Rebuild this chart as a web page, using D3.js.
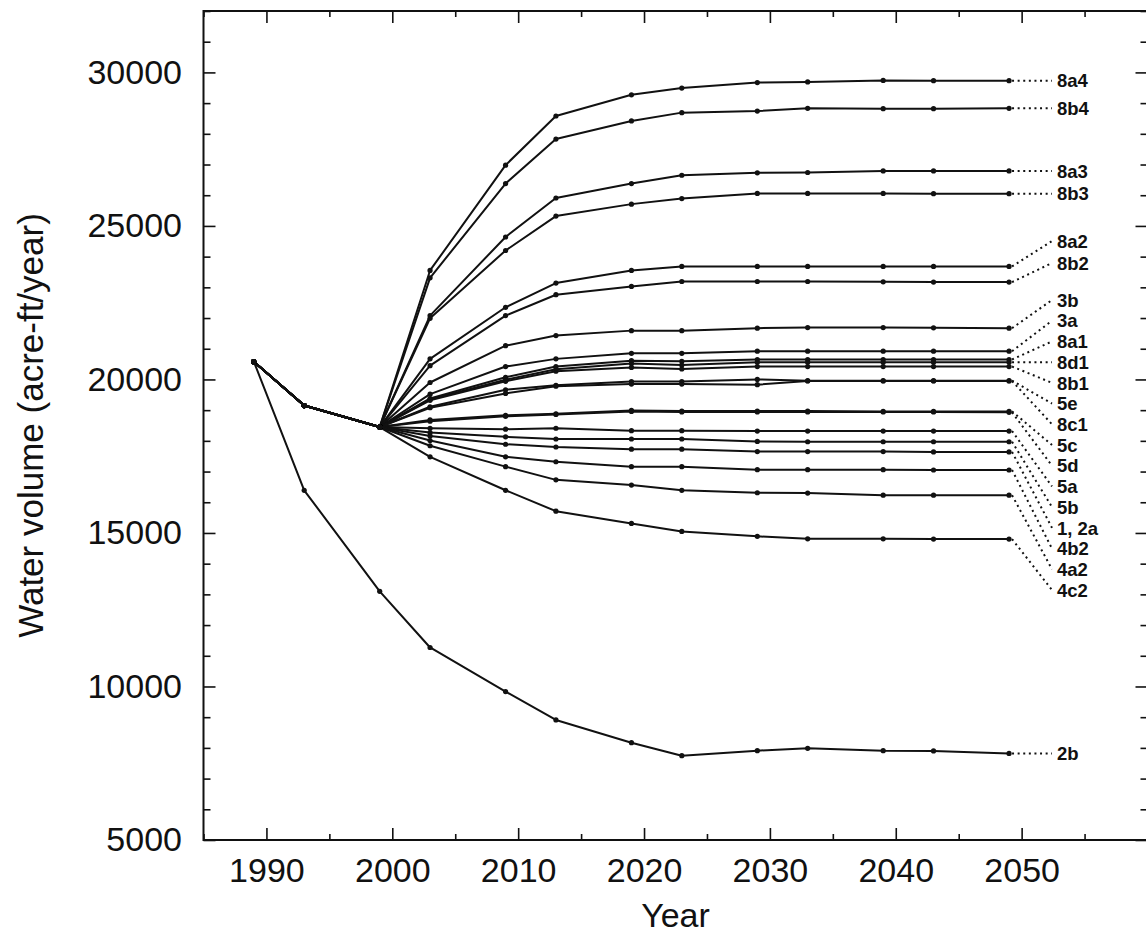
<!DOCTYPE html>
<html><head><meta charset="utf-8">
<script src="https://cdn.jsdelivr.net/npm/d3@7"></script>
<style>body{margin:0;background:#fff}</style>
</head><body>
<svg id="c" width="1146" height="936"></svg>
<script>
// ---- data ----
const years = [1989, 1993, 1999, 2003, 2009, 2013, 2019, 2023, 2029, 2033, 2039, 2043, 2049];
const yearTicks = [1990, 2000, 2010, 2020, 2030, 2040, 2050];
const valueTicks = [5000, 10000, 15000, 20000, 25000, 30000];

const s8a4 = [20580, 19150, 18450, 23550, 26980, 28580, 29270, 29490, 29670, 29690, 29740, 29730, 29730];
const s8b4 = [20580, 19150, 18450, 23310, 26380, 27830, 28420, 28690, 28740, 28830, 28820, 28820, 28830];
const s8a3 = [20580, 19150, 18450, 22080, 24640, 25910, 26380, 26650, 26730, 26740, 26790, 26790, 26790];
const s8b3 = [20580, 19150, 18450, 21990, 24200, 25320, 25710, 25890, 26060, 26060, 26060, 26050, 26050];
const s8a2 = [20580, 19150, 18450, 20670, 22350, 23140, 23550, 23680, 23680, 23680, 23680, 23680, 23680];
const s8b2 = [20580, 19150, 18450, 20450, 22080, 22760, 23030, 23190, 23190, 23190, 23180, 23170, 23170];
const s3b  = [20580, 19150, 18450, 19900, 21100, 21430, 21590, 21590, 21670, 21690, 21690, 21680, 21670];
const s3a  = [20580, 19150, 18450, 19520, 20420, 20670, 20850, 20850, 20920, 20920, 20920, 20920, 20920];
const s8a1 = [20580, 19150, 18450, 19380, 20070, 20420, 20610, 20590, 20650, 20650, 20650, 20650, 20650];
const s8d1 = [20580, 19150, 18450, 19350, 19990, 20330, 20520, 20470, 20560, 20560, 20560, 20560, 20560];
const s8b1 = [20580, 19150, 18450, 19320, 19940, 20270, 20390, 20340, 20420, 20420, 20420, 20420, 20420];
const s5e  = [20580, 19150, 18450, 19110, 19665, 19810, 19930, 19930, 20000, 19960, 19960, 19960, 19960];
const s8c1 = [20580, 19150, 18450, 19080, 19545, 19780, 19850, 19850, 19830, 19950, 19950, 19950, 19950];
const s5c  = [20580, 19150, 18450, 18680, 18830, 18880, 18990, 18970, 18970, 18970, 18960, 18960, 18960];
const s5d  = [20580, 19150, 18450, 18640, 18800, 18860, 18960, 18940, 18940, 18940, 18940, 18940, 18930];
const s5a  = [20580, 19150, 18450, 18410, 18380, 18410, 18330, 18330, 18320, 18320, 18320, 18320, 18320];
const s5b  = [20580, 19150, 18450, 18270, 18130, 18060, 18060, 18060, 17980, 17970, 17970, 17970, 17970];
const s1_2a = [20580, 19150, 18450, 18160, 17890, 17800, 17730, 17730, 17650, 17650, 17650, 17640, 17640];
const s4b2 = [20580, 19150, 18450, 18010, 17480, 17320, 17160, 17160, 17060, 17060, 17060, 17050, 17050];
const s4a2 = [20580, 19150, 18450, 17840, 17160, 16730, 16560, 16390, 16310, 16300, 16230, 16230, 16230];
const s4c2 = [20580, 19150, 18450, 17480, 16390, 15710, 15310, 15050, 14890, 14810, 14810, 14800, 14800];
const s2b  = [20580, 16390, 13100, 11270, 9835, 8910, 8170, 7745, 7910, 7985, 7910, 7900, 7820];

const seriesNames = ["8a4","8b4","8a3","8b3","8a2","8b2","3b","3a","8a1","8d1","8b1","5e","8c1","5c","5d","5a","5b","1, 2a","4b2","4a2","4c2","2b"];
const seriesValues = [s8a4,s8b4,s8a3,s8b3,s8a2,s8b2,s3b,s3a,s8a1,s8d1,s8b1,s5e,s8c1,s5c,s5d,s5a,s5b,s1_2a,s4b2,s4a2,s4c2,s2b];

// ---- layout ----
const FONT = '"Liberation Sans", Arial, Helvetica, sans-serif';
const svg = d3.select("#c");
const x = d3.scaleLinear().domain([1985, 2060]).range([203.5, 1147.5]);
const y = d3.scaleLinear().domain([5000, 32000]).range([840, 11]);
const X0 = x.range()[0], X1 = x.range()[1], Y0 = y.range()[0], Y1 = y.range()[1];

const series = seriesNames.map((n, i) => ({
  name: n,
  pts: years.map((yr, j) => ({yr, v: seriesValues[i][j]}))
}));

const minorX = d3.range(1985, 2061, 5).filter(d => yearTicks.indexOf(d) < 0);
const minorY = d3.range(5000, 32001, 1000).filter(d => valueTicks.indexOf(d) < 0);

function styleAxis(g){
  g.select(".domain").remove();
  g.selectAll(".tick line").attr("stroke", "#111").attr("stroke-width", 1.6);
  g.selectAll("text").attr("fill", "#111").style("font-family", FONT).style("font-size", "34px");
}

svg.append("g").attr("transform", `translate(0,${Y0})`)
  .call(d3.axisBottom(x).tickValues(yearTicks).tickSize(-12).tickPadding(18).tickFormat(d3.format("d")))
  .call(styleAxis);
svg.append("g").attr("transform", `translate(0,${Y0})`)
  .call(d3.axisBottom(x).tickValues(minorX).tickSize(-6).tickFormat(""))
  .call(styleAxis);
svg.append("g").attr("transform", `translate(0,${Y1})`)
  .call(d3.axisTop(x).tickValues(yearTicks).tickSize(-12).tickFormat(""))
  .call(styleAxis);
svg.append("g").attr("transform", `translate(0,${Y1})`)
  .call(d3.axisTop(x).tickValues(minorX).tickSize(-6).tickFormat(""))
  .call(styleAxis);
svg.append("g").attr("transform", `translate(${X0},0)`)
  .call(d3.axisLeft(y).tickValues(valueTicks).tickSize(-12).tickPadding(21.5).tickFormat(d3.format("d")))
  .call(styleAxis);
svg.append("g").attr("transform", `translate(${X0},0)`)
  .call(d3.axisLeft(y).tickValues(minorY).tickSize(-7).tickFormat(""))
  .call(styleAxis);
svg.append("g").attr("transform", `translate(${X1},0)`)
  .call(d3.axisRight(y).tickValues(valueTicks).tickSize(-12).tickFormat(""))
  .call(styleAxis);
svg.append("g").attr("transform", `translate(${X1},0)`)
  .call(d3.axisRight(y).tickValues(minorY).tickSize(-7).tickFormat(""))
  .call(styleAxis);

svg.append("rect").attr("x", X0).attr("y", Y1).attr("width", X1 - X0).attr("height", Y0 - Y1)
  .attr("fill", "none").attr("stroke", "#111").attr("stroke-width", 2);

svg.append("text").attr("x", (X0 + X1) / 2).attr("y", 927).attr("text-anchor", "middle")
  .style("font-family", FONT).style("font-size", "34px").attr("fill", "#111").text("Year");
svg.append("text").attr("transform", `translate(43,${(Y0 + Y1) / 2}) rotate(-90)`).attr("text-anchor", "middle")
  .style("font-family", FONT).style("font-size", "35px").attr("fill", "#111").text("Water volume (acre-ft/year)");

const line = d3.line().x(d => x(d.yr)).y(d => y(d.v));
const gl = svg.append("g");
gl.selectAll("path.s").data(series).join("path").attr("class", "s")
  .attr("d", d => line(d.pts)).attr("fill", "none").attr("stroke", "#111")
  .attr("stroke-width", 2).attr("stroke-linejoin", "round");
gl.selectAll("g.m").data(series).join("g").attr("class", "m")
  .selectAll("circle").data(d => d.pts).join("circle")
  .attr("cx", d => x(d.yr)).attr("cy", d => y(d.v)).attr("r", 2.6).attr("fill", "#111");

// labels: top four and 2b at their line ends; 8a2/8b2 pair; then 3b..4c2 evenly stacked
const LABEL_X = 1057, LEADER_X = 1052;
const stackTop = 300, stackBottom = 590, stackFirst = 6, stackLast = 20;
const labelY = series.map((s, i) => {
  const yEnd = y(s.pts[s.pts.length - 1].v);
  if (i === 4) return 241;
  if (i === 5) return 263;
  if (i >= stackFirst && i <= stackLast)
    return stackTop + (i - stackFirst) * (stackBottom - stackTop) / (stackLast - stackFirst);
  return yEnd;
});
series.forEach((s, i) => {
  const last = s.pts[s.pts.length - 1];
  const ex = x(last.yr), ey = y(last.v);
  svg.append("line").attr("x1", ex + 3).attr("y1", ey).attr("x2", LEADER_X).attr("y2", labelY[i])
    .attr("stroke", "#111").attr("stroke-width", 2).attr("stroke-dasharray", "2,3.6");
  svg.append("text").attr("x", LABEL_X).attr("y", labelY[i]).attr("dy", "0.36em")
    .style("font-family", FONT).style("font-size", "18.5px").style("font-weight", "bold")
    .attr("fill", "#111").text(s.name);
});
</script>
</body></html>
